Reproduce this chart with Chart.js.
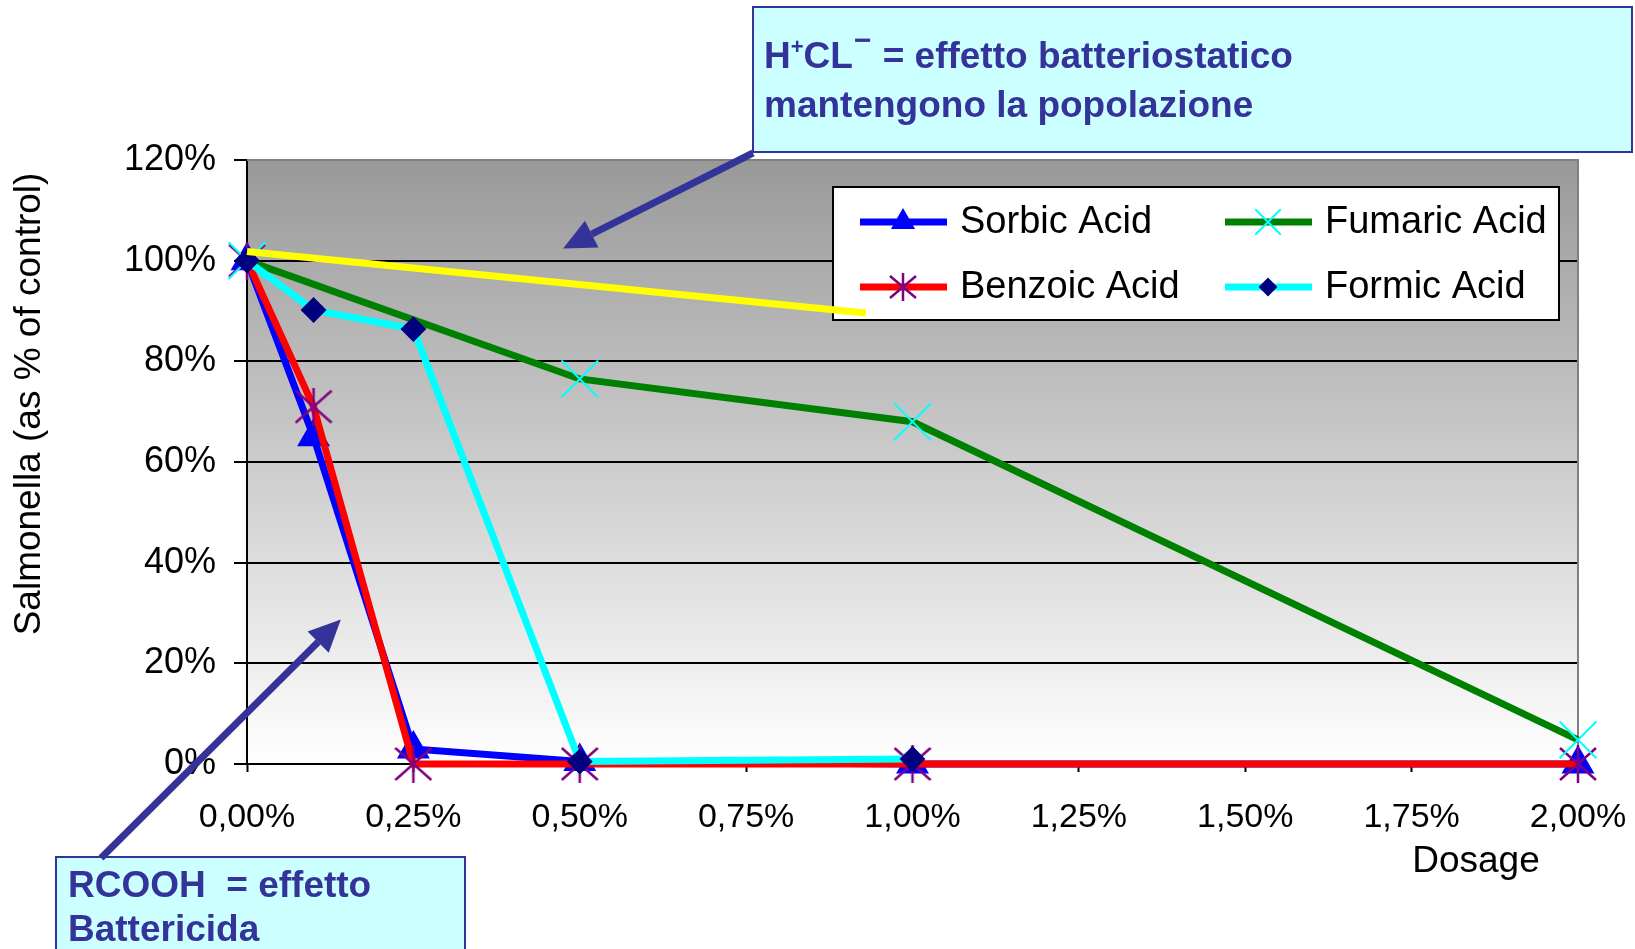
<!DOCTYPE html>
<html>
<head>
<meta charset="utf-8">
<script src="https://cdn.jsdelivr.net/npm/chart.js@4.4.0/dist/chart.umd.min.js"></script>
<style>
  body { margin: 0; background: #fff; }
  #wrap { width: 1635px; height: 949px; }
</style>
</head>
<body>
<div id="wrap"><canvas id="myChart" width="1635" height="949"></canvas></div>
<script>
// dose (% of feed) and Salmonella (% of control)
var dosage = [0, 0.1, 0.25, 0.5, 1.0, 2.0];
var sorbic = [100, 65, 3, 0.5, 0, 0];
var benzoic = [100, 71, 0, 0, 0, 0];
var fumaric = [100, null, null, 76.5, 68, 4.8];
var formic = [100, 90.2, 86.4, 0.5, 1, null];

// yellow guide line drawn on the slide
var guideX = [0, 0.93];
var guideY = [101.8, 89.6];

var xTickLabels = ['0,00%', '0,25%', '0,50%', '0,75%', '1,00%', '1,25%', '1,50%', '1,75%', '2,00%'];
var yTickLabels = ['0%', '20%', '40%', '60%', '80%', '100%', '120%'];

var FONT = '"Liberation Sans", Arial, sans-serif';
var NAVY = '#333399';

function pts(xs, ys) {
    return xs.map(function (x, i) { return { x: x, y: ys[i] }; });
}

// excel style asterisk: an X plus a vertical bar
function asterisk(size, color) {
    var c = document.createElement('canvas');
    c.width = size; c.height = size;
    var g = c.getContext('2d');
    g.strokeStyle = color;
    g.lineWidth = 2.5;
    g.beginPath();
    g.moveTo(size / 2, 0); g.lineTo(size / 2, size);
    g.moveTo(1, 3); g.lineTo(size - 1, size - 3);
    g.moveTo(size - 1, 3); g.lineTo(1, size - 3);
    g.stroke();
    return c;
}

var starBig = asterisk(38, '#800080');
var starSmall = asterisk(28, '#800080');

function arrow(ctx, x1, y1, x2, y2) {
    var a = Math.atan2(y2 - y1, x2 - x1), len = 32, half = 15;
    var bx = x2 - Math.cos(a) * len, by = y2 - Math.sin(a) * len;
    ctx.save();
    ctx.strokeStyle = NAVY;
    ctx.fillStyle = NAVY;
    ctx.lineWidth = 7;
    ctx.beginPath();
    ctx.moveTo(x1, y1);
    ctx.lineTo(bx, by);
    ctx.stroke();
    ctx.beginPath();
    ctx.moveTo(x2, y2);
    ctx.lineTo(bx - Math.sin(a) * half, by + Math.cos(a) * half);
    ctx.lineTo(bx + Math.sin(a) * half, by - Math.cos(a) * half);
    ctx.closePath();
    ctx.fill();
    ctx.restore();
}

function callout(ctx, x, y, w, h) {
    ctx.save();
    ctx.fillStyle = '#ccffff';
    ctx.fillRect(x, y, w, h);
    ctx.strokeStyle = NAVY;
    ctx.lineWidth = 2;
    ctx.strokeRect(x, y, w, h);
    ctx.restore();
}

var marks = [
    { style: 'triangle', r: 12 },
    { style: starSmall, r: 14 },
    { style: 'crossRot', r: 18 },
    { style: 'rectRot', r: 8 }
];

var decor = {
    id: 'decor',
    beforeDraw: function (chart) {
        var ctx = chart.ctx, a = chart.chartArea;
        var grad = ctx.createLinearGradient(0, a.top, 0, a.bottom);
        grad.addColorStop(0, '#999999');
        grad.addColorStop(1, '#ffffff');
        ctx.save();
        ctx.fillStyle = grad;
        ctx.fillRect(a.left, a.top, a.right - a.left, a.bottom - a.top);
        ctx.restore();
    },
    beforeDatasetsDraw: function (chart) {
        var ctx = chart.ctx, a = chart.chartArea;
        ctx.save();
        // plot frame, top and right
        ctx.strokeStyle = '#808080';
        ctx.lineWidth = 2;
        ctx.beginPath();
        ctx.moveTo(a.left, a.top);
        ctx.lineTo(a.right, a.top);
        ctx.lineTo(a.right, a.bottom);
        ctx.stroke();

        // legend
        ctx.fillStyle = '#fff';
        ctx.fillRect(833, 187, 726, 133);
        ctx.strokeStyle = '#000';
        ctx.lineWidth = 2;
        ctx.strokeRect(833, 187, 726, 133);
        var slots = [[0, 860, 222], [2, 1225, 222], [1, 860, 287], [3, 1225, 287]];
        slots.forEach(function (s) {
            var ds = chart.data.datasets[s[0]];
            var m = marks[s[0]];
            ctx.strokeStyle = ds.borderColor;
            ctx.lineWidth = 7;
            ctx.beginPath();
            ctx.moveTo(s[1], s[2]);
            ctx.lineTo(s[1] + 87, s[2]);
            ctx.stroke();
            ctx.fillStyle = ds.pointBackgroundColor;
            ctx.strokeStyle = ds.pointBorderColor;
            ctx.lineWidth = 2;
            Chart.helpers.drawPoint(ctx, { pointStyle: m.style, rotation: 0, borderWidth: 2, radius: m.r },
                s[1] + 43, s[2]);
            ctx.fillStyle = '#000';
            ctx.font = '38px ' + FONT;
            ctx.textBaseline = 'middle';
            ctx.fillText(ds.label, s[1] + 100, s[2] + 1);
        });
        ctx.restore();
    },
    afterDraw: function (chart) {
        var ctx = chart.ctx, xs = chart.scales.x, ys = chart.scales.y;
        ctx.save();
        // axis titles
        ctx.fillStyle = '#000';
        ctx.font = '37px ' + FONT;
        ctx.textAlign = 'center';
        ctx.textBaseline = 'middle';
        ctx.fillText('Dosage', 1476, 862);
        ctx.save();
        ctx.translate(30, 404);
        ctx.rotate(-Math.PI / 2);
        ctx.fillText('Salmonella (as % of control)', 0, 0);
        ctx.restore();

        // callouts
        callout(ctx, 753, 7, 879, 145);
        callout(ctx, 56, 857, 409, 100);
        ctx.fillStyle = NAVY;
        ctx.textAlign = 'left';
        ctx.textBaseline = 'alphabetic';
        var x = 764, b = 68;
        ctx.font = 'bold 37px ' + FONT;
        ctx.fillText('H', x, b); x += ctx.measureText('H').width;
        ctx.font = 'bold 22px ' + FONT;
        ctx.fillText('+', x, b - 14); x += ctx.measureText('+').width;
        ctx.font = 'bold 37px ' + FONT;
        ctx.fillText('CL', x, b); x += ctx.measureText('CL').width;
        ctx.font = 'bold 30px ' + FONT;
        ctx.fillText('\u2212', x + 1, b - 18); x += ctx.measureText('\u2212').width + 2;
        ctx.font = 'bold 37px ' + FONT;
        ctx.fillText(' = effetto batteriostatico', x, b);
        ctx.fillText('mantengono la popolazione', 764, 117);
        ctx.fillText('RCOOH  = effetto', 68, 897);
        ctx.fillText('Battericida', 68, 941);

        // arrows pointing into the plot
        arrow(ctx, 753, 153, xs.getPixelForValue(0.475), ys.getPixelForValue(102.4));
        arrow(ctx, 101, 858, xs.getPixelForValue(0.141), ys.getPixelForValue(28.7));
        ctx.restore();
    }
};

Chart.defaults.font.family = FONT;
Chart.defaults.color = '#000';

new Chart(document.getElementById('myChart').getContext('2d'), {
    type: 'scatter',
    data: {
        datasets: [{
            label: 'Sorbic Acid',
            data: pts(dosage, sorbic),
            borderColor: '#0000ff',
            pointBackgroundColor: '#0000ff',
            pointBorderColor: '#0000ff',
            pointStyle: 'triangle',
            pointRadius: 12,
            borderWidth: 7,
            order: 4
        }, {
            label: 'Benzoic Acid',
            data: pts(dosage, benzoic),
            borderColor: '#ff0000',
            pointBackgroundColor: '#800080',
            pointBorderColor: '#800080',
            pointStyle: starBig,
            pointRadius: 19,
            borderWidth: 7,
            order: 3
        }, {
            label: 'Fumaric Acid',
            data: pts(dosage, fumaric),
            borderColor: '#008000',
            pointBackgroundColor: '#00ffff',
            pointBorderColor: '#00ffff',
            pointStyle: 'crossRot',
            pointRadius: 26,
            pointBorderWidth: 2,
            borderWidth: 7,
            spanGaps: true,
            order: 2
        }, {
            label: 'Formic Acid',
            data: pts(dosage, formic),
            borderColor: '#00ffff',
            pointBackgroundColor: '#000080',
            pointBorderColor: '#000080',
            pointStyle: 'rectRot',
            pointRadius: 8,
            borderWidth: 7,
            order: 1
        }, {
            label: 'guide',
            data: pts(guideX, guideY),
            borderColor: '#ffff00',
            pointRadius: 0,
            borderWidth: 7,
            order: 0
        }].map(function (d) {
            d.showLine = true;
            d.clip = false;
            d.pointHoverRadius = d.pointRadius;
            return d;
        })
    },
    options: {
        responsive: false,
        animation: false,
        events: [],
        layout: { padding: { left: 0, top: 160, right: 57, bottom: 0 } },
        plugins: { legend: { display: false }, tooltip: { enabled: false } },
        scales: {
            x: {
                type: 'linear',
                min: 0,
                max: 2,
                afterFit: function (s) { s.height = 185; s.paddingLeft = 0; s.paddingRight = 0; },
                border: { display: true, color: '#000', width: 2 },
                grid: { drawOnChartArea: false, drawTicks: true, tickLength: 8, tickColor: '#000', tickWidth: 2 },
                ticks: {
                    stepSize: 0.25,
                    padding: 25,
                    maxRotation: 0,
                    font: { size: 34 },
                    callback: function (v, i) { return xTickLabels[i]; }
                }
            },
            y: {
                min: 0,
                max: 120,
                afterFit: function (s) { s.width = 247; s.paddingTop = 0; s.paddingBottom = 0; },
                border: { display: true, color: '#000', width: 2 },
                grid: {
                    color: function (c) { return c.tick && c.tick.value === 120 ? '#808080' : '#000'; },
                    lineWidth: 2,
                    tickLength: 13,
                    tickColor: '#000'
                },
                ticks: {
                    stepSize: 20,
                    padding: 18,
                    font: { size: 36 },
                    callback: function (v, i) { return yTickLabels[i]; }
                }
            }
        }
    },
    plugins: [decor]
});
</script>
</body>
</html>
